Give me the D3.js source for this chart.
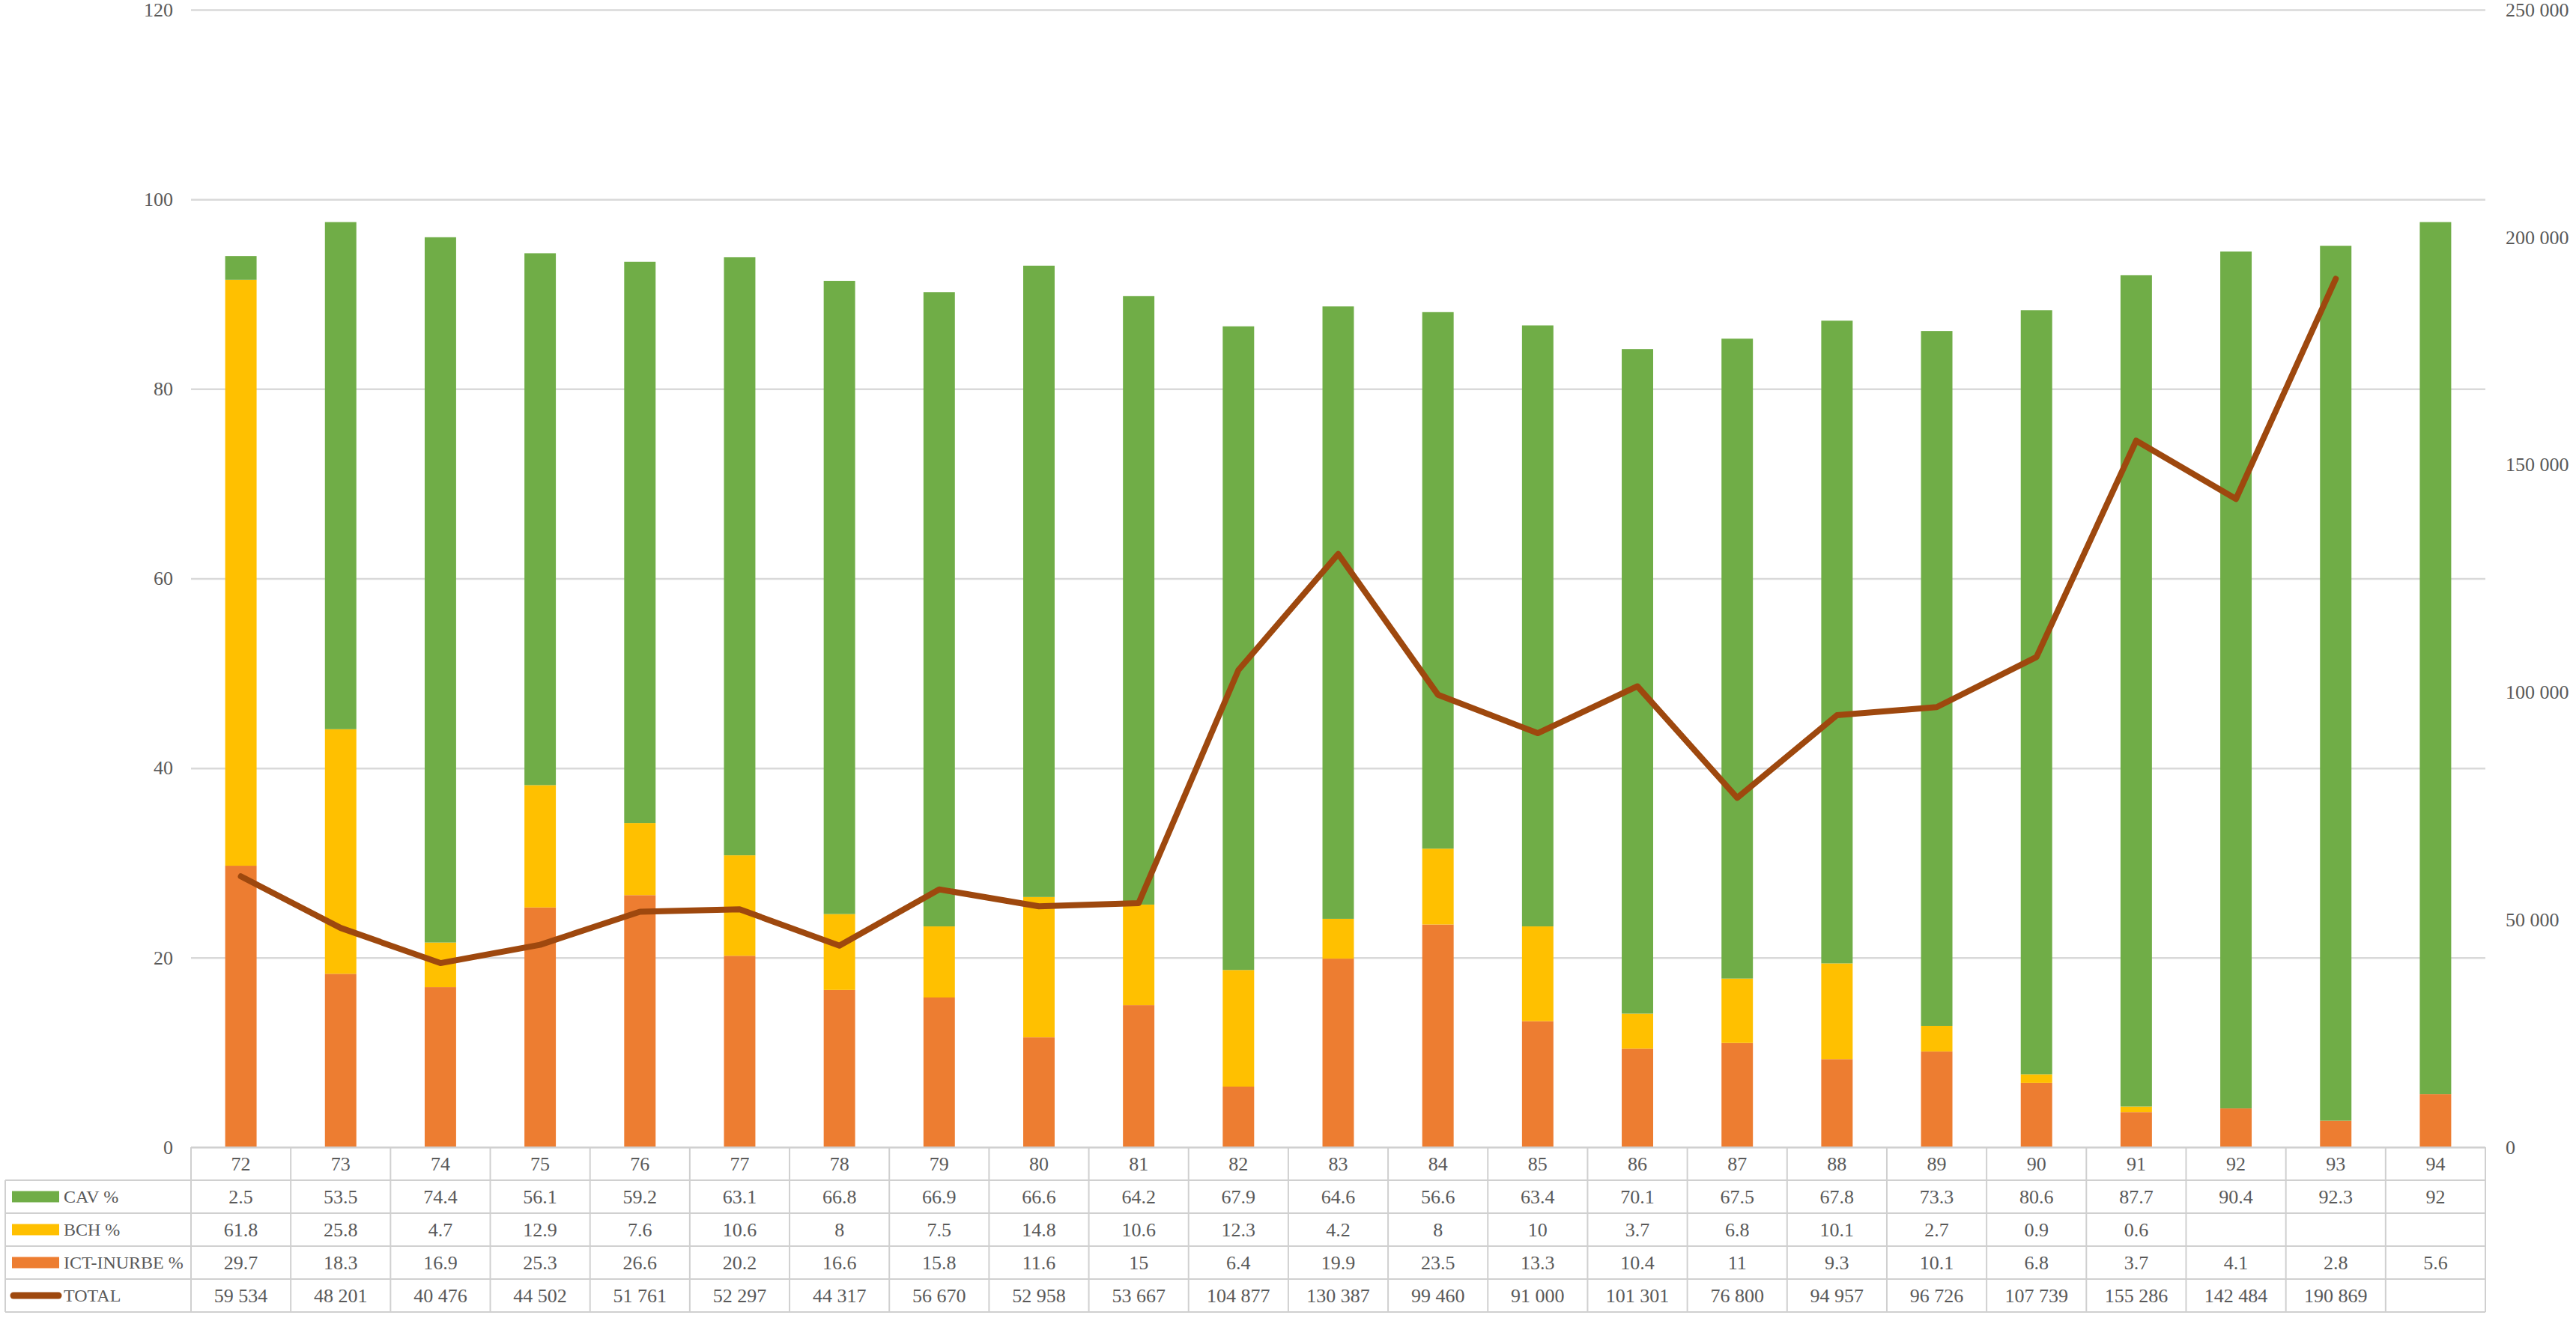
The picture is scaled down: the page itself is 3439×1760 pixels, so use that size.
<!DOCTYPE html>
<html lang="fr">
  <head>
    <meta charset="utf-8" />
    <script src="https://d3js.org/d3.v7.min.js"></script>
    <style>
      body { margin: 0; background: #fff; }
      text { font-family: "Liberation Serif", "Times New Roman", serif; fill: #595959; }
    </style>
  </head>
  <body>
    <div id="chart"></div>
    <script>
      // ---- data ----
      var years = ["72","73","74","75","76","77","78","79","80","81","82","83","84","85","86","87","88","89","90","91","92","93","94"];
      var cav = [2.5,53.5,74.4,56.1,59.2,63.1,66.8,66.9,66.6,64.2,67.9,64.6,56.6,63.4,70.1,67.5,67.8,73.3,80.6,87.7,90.4,92.3,92];
      var bch = [61.8,25.8,4.7,12.9,7.6,10.6,8,7.5,14.8,10.6,12.3,4.2,8,10,3.7,6.8,10.1,2.7,0.9,0.6,null,null,null];
      var ict = [29.7,18.3,16.9,25.3,26.6,20.2,16.6,15.8,11.6,15,6.4,19.9,23.5,13.3,10.4,11,9.3,10.1,6.8,3.7,4.1,2.8,5.6];
      var total = [59534,48201,40476,44502,51761,52297,44317,56670,52958,53667,104877,130387,99460,91000,101301,76800,94957,96726,107739,155286,142484,190869,null];
      var leftTicks = [0,20,40,60,80,100,120];
      var rightTicks = [0,50000,100000,150000,200000,250000];

      var series = [
        { key: "ict", label: "ICT-INURBE %", values: ict, color: "#ED7D31" },
        { key: "bch", label: "BCH %", values: bch, color: "#FFC000" },
        { key: "cav", label: "CAV %", values: cav, color: "#70AD47" }
      ];
      var lineColor = "#9E480E";

      var W = 3439, H = 1760;
      var plot = { left: 255, right: 3318, top: 13, bottom: 1532 };

      var svg = d3.select("#chart").append("svg")
        .attr("width", W).attr("height", H);

      var x = d3.scaleBand().domain(years).range([plot.left, plot.right]).padding(0);
      var y = d3.scaleLinear().domain([0, 120]).range([plot.bottom, plot.top]);
      var y2 = d3.scaleLinear().domain([0, 250000]).range([plot.bottom, plot.top]);
      var barW = x.bandwidth() * 0.315;

      var fr = d3.formatLocale({ decimal: ".", thousands: "\u00a0", grouping: [3], currency: ["", ""] });
      var fmt = fr.format(",");

      // gridlines + left axis
      var gy = svg.append("g")
        .attr("transform", "translate(" + plot.left + ",0)")
        .call(d3.axisLeft(y).tickValues(leftTicks).tickSize(-(plot.right - plot.left)).tickPadding(24));
      gy.select(".domain").remove();
      gy.selectAll(".tick line").attr("stroke", "#D9D9D9").attr("stroke-width", 2.5);
      gy.selectAll(".tick text").style("font-size", "26px").attr("fill", "#595959");

      // right axis
      var gy2 = svg.append("g")
        .attr("transform", "translate(" + plot.right + ",0)")
        .call(d3.axisRight(y2).tickValues(rightTicks).tickSize(0).tickPadding(27).tickFormat(fmt));
      gy2.select(".domain").remove();
      gy2.selectAll(".tick text").style("font-size", "26px").attr("fill", "#595959");

      // stacked bars
      var rows = years.map(function (yr, i) {
        return { year: yr, ict: ict[i] || 0, bch: bch[i] || 0, cav: cav[i] || 0 };
      });
      var stack = d3.stack().keys(series.map(function (s) { return s.key; }))(rows);
      svg.append("g").selectAll("g")
        .data(stack).enter().append("g")
        .attr("fill", function (d, i) { return series[i].color; })
        .selectAll("rect")
        .data(function (d) { return d; }).enter().append("rect")
        .attr("x", function (d) { return x(d.data.year) + x.bandwidth() / 2 - barW / 2; })
        .attr("width", barW)
        .attr("y", function (d) { return y(d[1]); })
        .attr("height", function (d) { return y(d[0]) - y(d[1]); });

      // total line
      var line = d3.line()
        .defined(function (d) { return d != null; })
        .x(function (d, i) { return x(years[i]) + x.bandwidth() / 2; })
        .y(function (d) { return y2(d); });
      svg.append("path")
        .datum(total)
        .attr("d", line)
        .attr("fill", "none")
        .attr("stroke", lineColor)
        .attr("stroke-width", 8)
        .attr("stroke-linejoin", "round")
        .attr("stroke-linecap", "round");

      // ---- data table ----
      var tTop = plot.bottom, headH = 44, rowH = 44, legLeft = 7;
      var tableRows = [
        { label: "CAV %", values: cav, color: "#70AD47", type: "rect" },
        { label: "BCH %", values: bch, color: "#FFC000", type: "rect" },
        { label: "ICT-INURBE %", values: ict, color: "#ED7D31", type: "rect" },
        { label: "TOTAL", values: total, color: lineColor, type: "line" }
      ];
      var tBottom = tTop + headH + rowH * tableRows.length;
      var tbl = svg.append("g");
      var border = "#D0D0D0";

      // horizontal borders
      tbl.append("line").attr("x1", plot.left).attr("x2", plot.right)
        .attr("y1", tTop).attr("y2", tTop).attr("stroke", border).attr("stroke-width", 2);
      for (var r = 0; r <= tableRows.length; r++) {
        var yy = tTop + headH + r * rowH;
        tbl.append("line").attr("x1", legLeft).attr("x2", plot.right)
          .attr("y1", yy).attr("y2", yy).attr("stroke", border).attr("stroke-width", 2);
      }
      // vertical borders
      tbl.append("line").attr("x1", legLeft).attr("x2", legLeft)
        .attr("y1", tTop + headH).attr("y2", tBottom).attr("stroke", border).attr("stroke-width", 2);
      years.concat([null]).forEach(function (yr, i) {
        var xx = yr ? x(yr) : plot.right;
        tbl.append("line").attr("x1", xx).attr("x2", xx)
          .attr("y1", tTop).attr("y2", tBottom).attr("stroke", border).attr("stroke-width", 2);
      });

      // category header
      tbl.selectAll(".cat").data(years).enter().append("text")
        .attr("x", function (d) { return x(d) + x.bandwidth() / 2; })
        .attr("y", tTop + headH / 2)
        .attr("text-anchor", "middle").attr("dominant-baseline", "central")
        .style("font-size", "26px")
        .text(function (d) { return d; });

      tableRows.forEach(function (row, r) {
        var cy = tTop + headH + r * rowH + rowH / 2;
        if (row.type === "rect") {
          tbl.append("rect").attr("x", 16).attr("y", cy - 7.5).attr("width", 63).attr("height", 15)
            .attr("fill", row.color);
        } else {
          tbl.append("line").attr("x1", 18).attr("x2", 78).attr("y1", cy).attr("y2", cy)
            .attr("stroke", row.color).attr("stroke-width", 9).attr("stroke-linecap", "round");
        }
        tbl.append("text").attr("x", 85).attr("y", cy)
          .attr("dominant-baseline", "central")
          .style("font-size", "24px").text(row.label);
        tbl.selectAll(null).data(row.values).enter().append("text")
          .attr("x", function (d, i) { return x(years[i]) + x.bandwidth() / 2; })
          .attr("y", cy)
          .attr("text-anchor", "middle").attr("dominant-baseline", "central")
          .style("font-size", "26px")
          .text(function (d) { return d == null ? "" : (row.type === "line" ? fmt(d) : d); });
      });
    </script>
  </body>
</html>
